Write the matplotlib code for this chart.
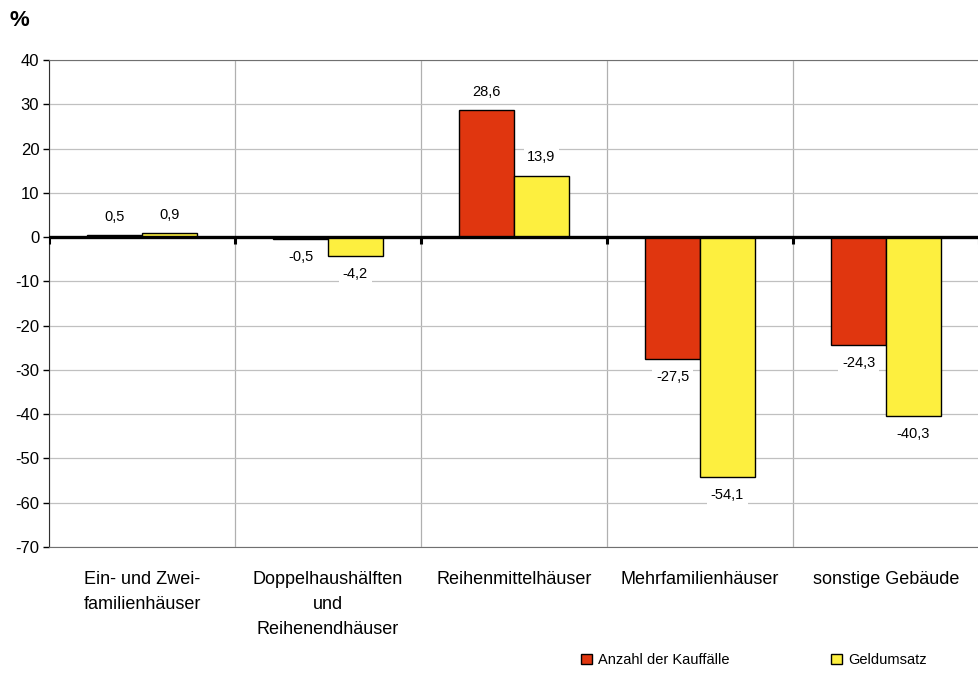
import numpy as np
import matplotlib
matplotlib.use('Agg')
import matplotlib.pyplot as plt
from matplotlib.patches import Patch

plt.rcParams['font.family'] = ['Liberation Sans', 'DejaVu Sans']

# Data
categories = ['Ein- und Zwei-\nfamilienhäuser', 'Doppelhaushälften\nund\nReihenendhäuser',
              'Reihenmittelhäuser', 'Mehrfamilienhäuser', 'sonstige Gebäude']
kauffaelle = [0.5, -0.5, 28.6, -27.5, -24.3]
geldumsatz = [0.9, -4.2, 13.9, -54.1, -40.3]
series_names = ['Anzahl der Kauffälle', 'Geldumsatz']
y_ticks = list(range(-70, 41, 10))

red = '#E0360F'
yellow = '#FDEF3F'

fig = plt.figure(figsize=(9.79, 6.73), dpi=100)
ax = fig.add_axes([49 / 979, 1 - 547 / 673, 930 / 979, 487 / 673])

x = np.arange(len(categories))
w = 0.295
b1 = ax.bar(x - w / 2, kauffaelle, w, color=red, edgecolor='black', linewidth=1, zorder=3)
b2 = ax.bar(x + w / 2, geldumsatz, w, color=yellow, edgecolor='black', linewidth=1, zorder=3)

# value labels
for bars, vals in [(b1, kauffaelle), (b2, geldumsatz)]:
    for rect, v in zip(bars, vals):
        off = 13 if v >= 0 else -13
        ax.annotate(f'{v:.1f}'.replace('.', ','),
                    xy=(rect.get_x() + rect.get_width() / 2, v),
                    xytext=(0, off), textcoords='offset points',
                    ha='center', va='center', fontsize=10.5, zorder=5,
                    bbox=dict(boxstyle='square,pad=0.25', fc='white', ec='none'))

ax.set_xlim(-0.5, len(categories) - 0.5)
ax.set_ylim(-70, 40)
ax.set_yticks(y_ticks)
ax.set_yticklabels([str(t) for t in y_ticks], fontsize=12)
ax.tick_params(axis='y', direction='out', length=4, width=1, pad=3)

ax.set_xticks(x)
ax.set_xticklabels(categories, fontsize=13, linespacing=1.62)
ax.tick_params(axis='x', length=0, pad=17)

# grid
ax.grid(axis='y', color='#c0c0c0', linewidth=0.9, zorder=0)
for b in np.arange(-0.5, len(categories), 1.0):
    ax.axvline(b, color='#b0b0b0', linewidth=0.9, zorder=0)

# zero line with small ticks
ax.axhline(0, color='black', linewidth=2.4, zorder=4)
ax.vlines(np.arange(-0.5, len(categories), 1.0), -1.6, 0, color='black', linewidth=2.2, zorder=4)

for s in ['top', 'bottom']:
    ax.spines[s].set_color('#707070')
ax.spines['left'].set_color('#303030')
ax.spines['right'].set_visible(False)

fig.text(10 / 979, 1 - 21 / 673, '%', fontsize=16, fontweight='bold', va='center')

handles = [Patch(facecolor=red, edgecolor='black'), Patch(facecolor=yellow, edgecolor='black')]
fig.legend(handles, series_names, loc='center', bbox_to_anchor=(754 / 979, 1 - 660 / 673),
           ncol=2, frameon=False, fontsize=10.5, handlelength=0.75, handleheight=0.75,
           handletextpad=0.4, columnspacing=7.0)

fig.savefig('out.png', dpi=100)
